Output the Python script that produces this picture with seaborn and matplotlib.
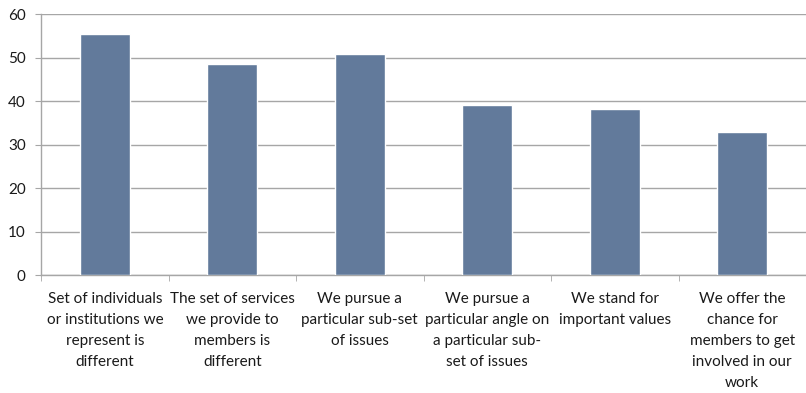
import numpy as np
import pandas as pd
import seaborn as sns
import matplotlib.pyplot as plt

# Chart data
categories = [
    "Set of individuals\nor institutions we\nrepresent is\ndifferent",
    "The set of services\nwe provide to\nmembers is\ndifferent",
    "We pursue a\nparticular sub-set\nof issues",
    "We pursue a\nparticular angle on\na particular sub-\nset of issues",
    "We stand for\nimportant values",
    "We offer the\nchance for\nmembers to get\ninvolved in our\nwork",
]
values = [55.5, 48.6, 50.9, 39.0, 38.2, 32.8]
y_ticks = [0, 10, 20, 30, 40, 50, 60]

df = pd.DataFrame({"category": categories, "value": values})

sns.set_style("white")
plt.rcParams["font.family"] = ["Lato", "DejaVu Sans"]

fig = plt.figure(figsize=(8.06, 3.93), dpi=100)
ax = fig.add_axes([0.051, 0.300, 0.949, 0.664])

sns.barplot(data=df, x="category", y="value", color="#627A9B",
            width=0.39, saturation=1, ax=ax, zorder=3)

ax.set_ylim(0, 60)
ax.set_xlim(-0.5, len(categories) - 0.5)
ax.set_yticks(y_ticks)
ax.yaxis.grid(True, color="#a6a6a6", linewidth=1, zorder=0)
ax.set_xlabel("")
ax.set_ylabel("")

for side in ["top", "right"]:
    ax.spines[side].set_visible(False)
for side in ["left", "bottom"]:
    ax.spines[side].set_color("#a6a6a6")
    ax.spines[side].set_linewidth(1)

ax.tick_params(axis="y", left=True, length=4, color="#a6a6a6",
               labelsize=11, labelcolor="#1a1a1a", pad=7)
ax.tick_params(axis="x", bottom=False, labelsize=11,
               labelcolor="#1a1a1a", pad=9)
for lbl in ax.get_xticklabels():
    lbl.set_linespacing(1.62)
    lbl.set_verticalalignment("top")

ax.set_xticks(np.arange(-0.5, len(categories), 1.0), minor=True)
ax.tick_params(axis="x", which="minor", bottom=True, length=4,
               color="#a6a6a6")

fig.savefig("out.png", dpi=100)
